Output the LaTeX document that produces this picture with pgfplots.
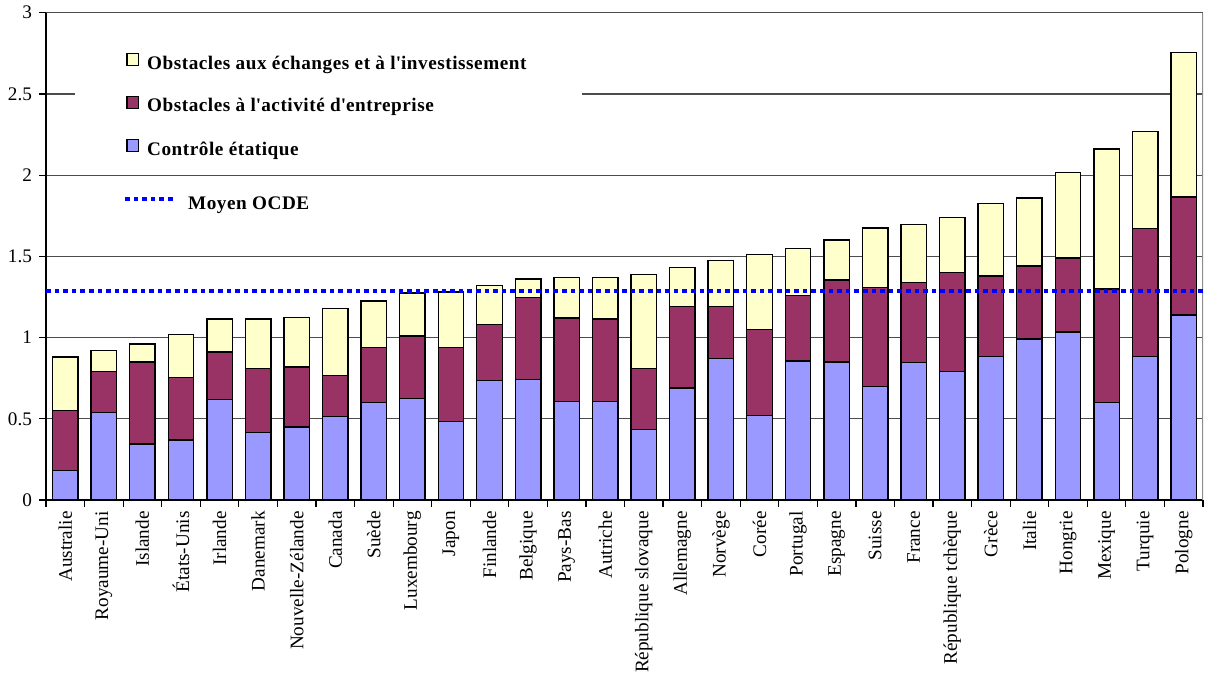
\documentclass[border=0pt]{standalone}
\usepackage{fontspec}
\setmainfont{Liberation Serif}
\usepackage{pgfplots}
\usepackage{pgfplotstable}
\pgfplotsset{compat=1.18}
\definecolor{cblue}{RGB}{153,153,255}
\definecolor{cmaroon}{RGB}{153,51,102}
\definecolor{cyellow}{RGB}{255,255,204}
\definecolor{oecd}{RGB}{0,0,255}

\pgfplotstableread{
x blue maroon yellow
0 0.18 0.37 0.33
1 0.54 0.25 0.13
2 0.345 0.505 0.11
3 0.37 0.385 0.265
4 0.62 0.29 0.205
5 0.415 0.395 0.305
6 0.45 0.37 0.305
7 0.515 0.25 0.415
8 0.60 0.34 0.285
9 0.625 0.385 0.265
10 0.485 0.455 0.34
11 0.735 0.345 0.24
12 0.74 0.505 0.115
13 0.605 0.515 0.25
14 0.605 0.51 0.255
15 0.435 0.375 0.58
16 0.69 0.50 0.24
17 0.87 0.32 0.285
18 0.52 0.53 0.46
19 0.855 0.405 0.29
20 0.85 0.505 0.245
21 0.70 0.61 0.365
22 0.845 0.495 0.355
23 0.79 0.61 0.34
24 0.885 0.495 0.445
25 0.99 0.45 0.42
26 1.035 0.455 0.525
27 0.60 0.70 0.86
28 0.885 0.785 0.60
29 1.14 0.725 0.89
}\datatable

\begin{document}
\begin{tikzpicture}
\begin{axis}[
  scale only axis, width=578.5pt, height=243.65pt,
  xmin=-0.5, xmax=29.5, ymin=0, ymax=3,
  ybar stacked, bar width=0.66,
  axis x line*=bottom, axis y line*=left,
  axis line style={black, line width=0.6pt},
  ytick={0,0.5,1,1.5,2,2.5,3},
  yticklabels={0,0.5,1,1.5,2,2.5,3},
  ymajorgrids, grid style={black!70, line width=0.6pt},
  tick align=outside, major tick length=3.5pt,
  tick style={black, line width=0.6pt},
  xtick={-0.5,0.5,...,29.5}, xticklabels={},
  extra x ticks={0,1,...,29},
  extra x tick labels={Australie,Royaume-Uni,Islande,États-Unis,Irlande,Danemark,Nouvelle-Zélande,Canada,Suède,Luxembourg,Japon,Finlande,Belgique,Pays-Bas,Autriche,République slovaque,Allemagne,Norvège,Corée,Portugal,Espagne,Suisse,France,République tchèque,Grèce,Italie,Hongrie,Mexique,Turquie,Pologne},
  extra x tick style={major tick length=0pt, grid=none, xticklabel style={rotate=90, anchor=east, inner sep=0pt, xshift=-5.5pt}},
  tick label style={font=\fontsize{9.6}{11}\selectfont},
  /pgf/number format/assume math mode=true,
]
\addplot[fill=cblue, draw=black, line width=0.7pt] table[x=x,y=blue]{\datatable};
\addplot[fill=cmaroon, draw=black, line width=0.7pt] table[x=x,y=maroon]{\datatable};
\addplot[fill=cyellow, draw=black, line width=0.7pt] table[x=x,y=yellow]{\datatable};
\fill[white] (rel axis cs:0.025,0.759) rectangle (rel axis cs:0.463,0.954);
\draw[black!45, line width=0.6pt] (rel axis cs:1,0) -- (rel axis cs:1,1);
\coordinate (ll) at (rel axis cs:0,0);
\coordinate (ur) at (rel axis cs:1,1);
\end{axis}
\begin{axis}[
  scale only axis, width=578.5pt, height=243.65pt,
  xmin=-0.5, xmax=29.5, ymin=0, ymax=3,
  hide axis,
  legend style={at={(0.0691,0.918)}, anchor=north west, draw=none, fill=none,
    inner sep=0pt, row sep=11pt, column sep=0pt, font=\fontsize{9.6}{11}\selectfont\bfseries\addfontfeatures{LetterSpace=2.8},
    nodes={inner sep=1pt}},
  legend cell align=left,
]
\addplot[oecd, line width=2pt, dash pattern=on 2.3pt off 2pt, forget plot] coordinates {(-0.5,1.285) (29.5,1.285)};
\addlegendimage{legend image code/.code={\draw[fill=cyellow, draw=black, line width=0.6pt] (0pt,-0.7pt) rectangle (5.8pt,5.1pt);}}
\addlegendentry{\hspace{3pt}Obstacles aux échanges et à l\textquotesingle investissement}
\addlegendimage{legend image code/.code={\draw[fill=cmaroon, draw=black, line width=0.6pt] (0pt,-0.7pt) rectangle (5.8pt,5.1pt);}}
\addlegendentry{\hspace{3pt}Obstacles à l\textquotesingle activité d\textquotesingle entreprise}
\addlegendimage{legend image code/.code={\draw[fill=cblue, draw=black, line width=0.6pt] (0pt,-0.7pt) rectangle (5.8pt,5.1pt);}}
\addlegendentry{\hspace{3pt}Contrôle étatique}
\addlegendimage{legend image code/.code={\draw[oecd, line width=2pt, dash pattern=on 2.3pt off 2pt, overlay] (-1pt,-0.5pt) -- (23pt,-0.5pt);}}
\addlegendentry{\rule{0pt}{12.7pt}\hspace{23.5pt}Moyen OCDE}
\end{axis}
\pgfresetboundingbox
\path ([shift={(-23pt,-86.5pt)}]ll) rectangle ([shift={(3pt,6.35pt)}]ur);
\end{tikzpicture}
\end{document}
